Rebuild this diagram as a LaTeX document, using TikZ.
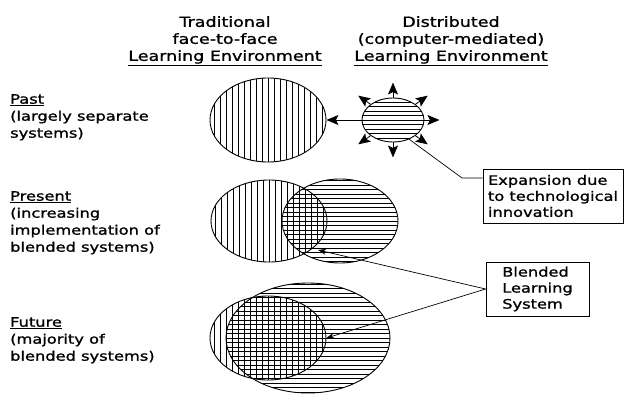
\documentclass[tikz,border=0pt]{standalone}
\usepackage{fontspec}
\setmainfont[FakeStretch=1.25,FakeBold=1.2]{DejaVu Sans}
\usetikzlibrary{shapes.geometric,arrows.meta}

\begin{document}
\begin{tikzpicture}[x=1pt,y=1pt,
    hatch/.style={line width=0.7pt},
    oval/.style={ellipse,draw,line width=0.9pt,inner sep=0pt},
    vlines/.style={path picture={\foreach \k in {-96,-90,...,96}
        \draw[hatch] ([xshift=\k pt]path picture bounding box.north) -- ([xshift=\k pt]path picture bounding box.south);}},
    hlines/.style={path picture={\foreach \k in {-58.5,-54,...,58.5}
        \draw[hatch] ([yshift=\k pt]path picture bounding box.west) -- ([yshift=\k pt]path picture bounding box.east);}},
    head/.style={align=center,inner sep=0pt,font=\fontsize{14}{17}\selectfont},
    lbl/.style={align=left,inner sep=0pt,font=\fontsize{13}{17}\selectfont},
    note/.style={draw,line width=0.8pt,align=left,minimum height=54pt,font=\fontsize{13}{16}\selectfont},
    radial/.style={line width=0.8pt,-{Stealth[length=12pt,width=10pt,inset=2.5pt]}},
    link/.style={line width=0.7pt,-{Stealth[length=8pt,width=6pt]}}]
    \useasboundingbox (0,0) rectangle (624,394);
    % column heads and row labels
    \node[head,anchor=north] (trad) at (225,378) {Traditional\\face-to-face\\\underline{Learning Environment}};
    \node[head,anchor=north] (dist) at (451,378) {Distributed\\(computer-mediated)\\\underline{Learning Environment}};
    \node[lbl,anchor=north west] (past) at (10,300) {\underline{Past}\\(largely separate\\systems)};
    \node[lbl,anchor=north west] (present) at (10,203) {\underline{Present}\\(increasing\\implementation of\\blended systems)};
    \node[lbl,anchor=north west] (future) at (10,77) {\underline{Future}\\(majority of\\blended systems)};
    % past
    \node[oval,vlines,minimum width=116pt,minimum height=84pt] (pastT) at (268,274) {};
    \node[oval,hlines,minimum width=62pt,minimum height=44pt] (pastD) at (393,274) {};
    \draw[radial] (pastD.west) -- (pastT.east);
    \foreach \a in {0,35,90,145,215,270,325}
        \draw[radial] (pastD.\a) -- ++(\a:15);
    % present
    \node[oval,vlines,minimum width=116pt,minimum height=82pt] (presT) at (269,173) {};
    \node[oval,hlines,minimum width=116pt,minimum height=84pt] (presD) at (340,173) {};
    % future
    \node[oval,hlines,minimum width=164pt,minimum height=110pt] (futD) at (308,56) {};
    \node[oval,vlines,minimum width=116pt,minimum height=84pt] (futT) at (268,56) {};
    % notes
    \node[note,minimum width=140pt] (expand) at (553,198) {Expansion due\\to technological\\innovation};
    \node[note,minimum width=103pt] (blend) at (537.5,105) {Blended\\Learning\\System};
    \coordinate (bendE) at (462,216);
    \coordinate (presX) at (318,144);
    \draw[line width=0.7pt] (pastD.-50) -- (bendE) -- (bendE -| expand.west);
    \draw[link] (blend.west) -- (presX);
    \draw[link] (blend.west) -- (futT.east);
\end{tikzpicture}
\end{document}
